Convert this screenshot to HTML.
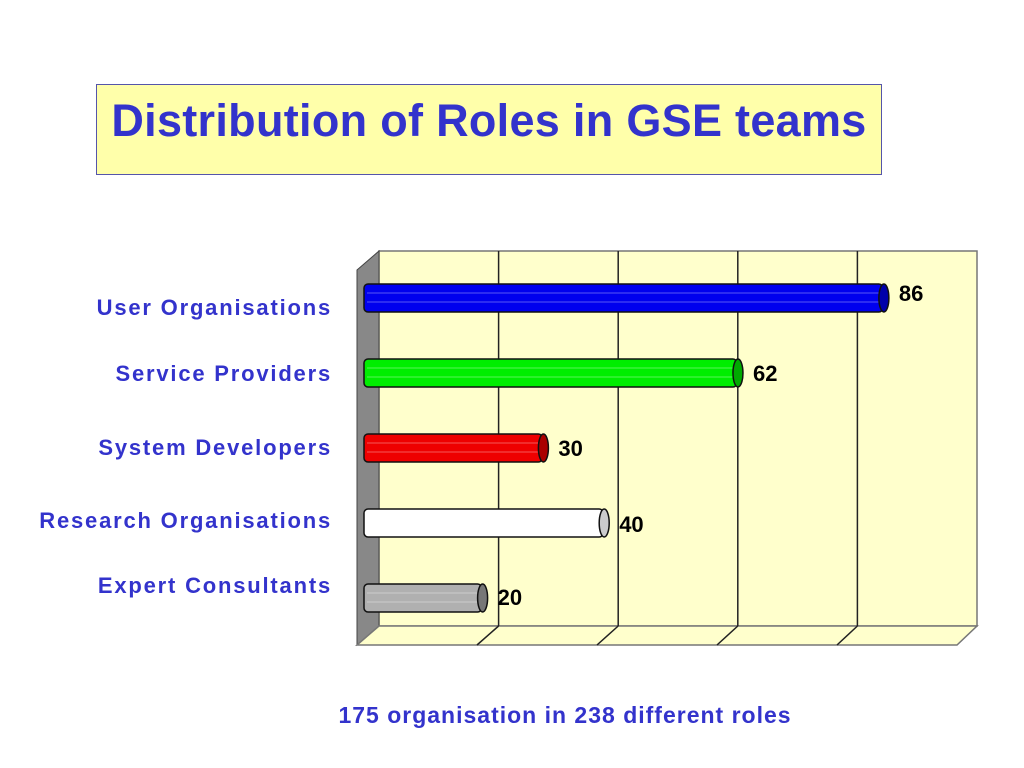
<!DOCTYPE html>
<html><head><meta charset="utf-8"><style>
body{margin:0;width:1024px;height:768px;background:#fff;overflow:hidden;font-family:"Liberation Sans",Arial,sans-serif}
#title{position:absolute;left:96px;top:84px;width:786px;height:91px;background:#ffffaa;border:1px solid #5555aa;box-sizing:border-box;color:#3333cc;font-weight:bold;font-size:45px;letter-spacing:0.3px;text-align:center;line-height:72px}
#foot{position:absolute;left:0;width:1130px;top:702px;text-align:center;color:#3333cc;font-weight:bold;font-size:23px;letter-spacing:1px}
</style></head><body>
<div id="title">Distribution of Roles in GSE teams</div>
<svg id="chart" width="1024" height="768" style="position:absolute;left:0;top:0"></svg>
<div id="foot">175 organisation in 238 different roles</div>
<script>
const categories=["User Organisations","Service Providers","System Developers","Research Organisations","Expert Consultants"];
const values=[86,62,30,40,20];
const colors=["#0000ee","#00ee00","#ee0000","#ffffff","#b0b0b0"];
const capColors=["#0000aa","#00aa00","#aa0000","#cccccc","#777777"];
const gridTicks=[0,20,40,60,80,100];
const NS="http://www.w3.org/2000/svg";
const svg=document.getElementById('chart');
function mk(tag,attrs,name){const e=document.createElementNS(NS,tag);for(const k in attrs)e.setAttribute(k,attrs[k]);


svg.appendChild(e);return e;}
const backX=v=>379+v*5.98, frontX=v=>357+v*6.0, barX=v=>364+v*6.08;
const barY=i=>298+i*75;
const labelY=[307,373,447,520,585];
const valueDy=[3,8,8,9,7];
mk('rect',{x:379,y:251,width:598,height:375,fill:'#ffffcc',stroke:'#777',"stroke-width":1.5},'back-wall');
mk('polygon',{points:'357,270 379,251 379,626 357,645',fill:'#888',stroke:'#444'},'left-wall');
mk('polygon',{points:'379,626 977,626 957,645 357,645',fill:'#ffffcc',stroke:'#777',"stroke-width":1.5},'floor');
gridTicks.forEach((t,k)=>{if(k===0||k===gridTicks.length-1)return;
const bx=backX(t),fx=frontX(t);
mk('line',{x1:bx,y1:251,x2:bx,y2:626,stroke:'#222',"stroke-width":1.5},'gridline');
mk('line',{x1:bx,y1:626,x2:fx,y2:645,stroke:'#222',"stroke-width":1.5},'floor-gridline');});
values.forEach((v,i)=>{const y=barY(i),h=28,x0=barX(0),x1=barX(v);
mk('rect',{x:x0,y:y-h/2,width:x1-x0-4,height:h,rx:4,fill:colors[i],stroke:'#111',"stroke-width":1.5},'bar-'+i);
mk('line',{x1:x0+3,y1:y-5,x2:x1-6,y2:y-5,stroke:'rgba(255,255,255,0.35)',"stroke-width":1},'bar-highlight');
mk('line',{x1:x0+3,y1:y+4,x2:x1-6,y2:y+4,stroke:'rgba(255,255,255,0.35)',"stroke-width":1},'bar-highlight');
mk('ellipse',{cx:x1-3,cy:y,rx:5,ry:h/2,fill:capColors[i],stroke:'#111',"stroke-width":1.5},'bar-cap');
const t=mk('text',{x:x1+12,y:y+valueDy[i],"font-size":22,"font-weight":"bold",fill:'#000',"font-family":'"Liberation Sans Narrow","Liberation Sans",sans-serif'},'value-label');t.textContent=v;
const c=mk('text',{x:332,y:labelY[i]+8,"text-anchor":"end","font-size":22,"letter-spacing":"1.8","font-weight":"bold",fill:'#3333cc'},'category-label');c.textContent=categories[i];});
</script>
</body></html>
